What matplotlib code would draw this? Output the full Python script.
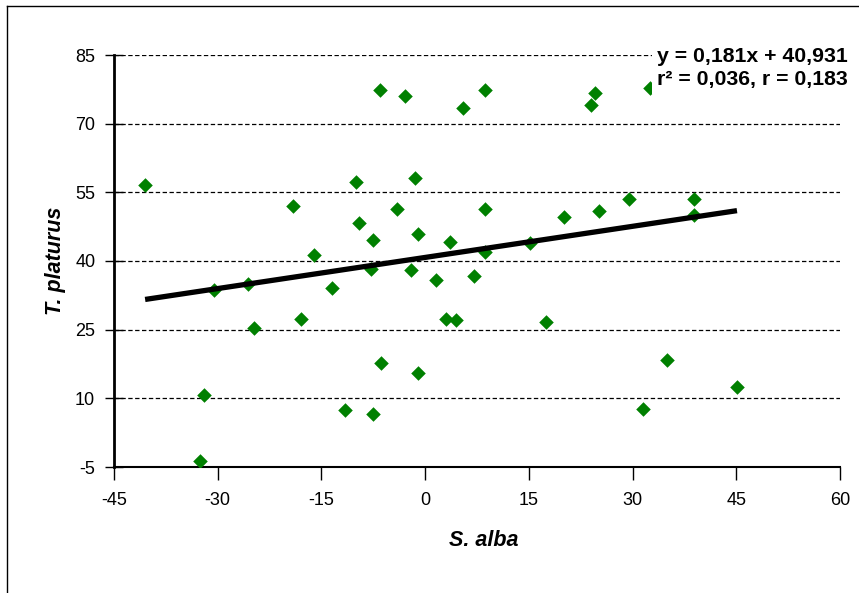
import numpy as np
import matplotlib
matplotlib.use('Agg')
import matplotlib.pyplot as plt
from matplotlib.lines import Line2D

plt.rcParams['font.family'] = ['Liberation Sans', 'DejaVu Sans']

# S. alba (x) vs T. platurus (y)
s_alba = [-40.5, -32.0, -32.6, -30.5, -25.6, -24.7, -19.05, -18.0, -16.1, -13.5,
          -11.6, -10.0, -9.6, -7.6, -7.6, -7.9, -6.5, -6.45, -4.05, -2.9,
          -1.98, -1.45, -1.06, -1.06, 1.5, 3.0, 3.57, 4.5, 5.45, 7.1,
          8.6, 8.6, 8.6, 15.1, 17.5, 20.1, 24.0, 24.55, 25.2, 29.55,
          31.5, 32.45, 35.05, 38.95, 38.95, 45.1]
t_platurus = [56.5, 10.8, -3.6, 33.6, 34.9, 25.3, 52.0, 27.3, 41.4, 34.1,
              7.45, 57.3, 48.4, 6.6, 44.65, 38.25, 77.4, 17.8, 51.4, 76.0,
              38.0, 58.2, 45.8, 15.6, 35.8, 27.3, 44.2, 27.05, 73.5, 36.8,
              77.4, 51.4, 42.0, 43.9, 26.6, 49.7, 74.1, 76.6, 50.9, 53.6,
              7.7, 77.9, 18.4, 53.6, 50.05, 12.55]

# trend line as drawn in the picture
fit_x = [-40.5, 45.1]
fit_y = [31.6, 51.0]

eq_text = 'y = 0,181x + 40,931\nr\u00b2 = 0,036, r = 0,183'

xticks = [-45, -30, -15, 0, 15, 30, 45, 60]
yticks = [-5, 10, 25, 40, 55, 70, 85]

fig = plt.figure(figsize=(8.59, 5.93), dpi=100)
ax = fig.add_axes([114/859, 1-467/593, (840-114)/859, (467-55)/593])

ax.scatter(s_alba, t_platurus, marker='D', s=55, color='#008000', zorder=3, linewidths=0)
ax.plot(fit_x, fit_y, color='black', lw=3.8, solid_capstyle='butt', zorder=4)

ax.set_xlim(-45, 60)
ax.set_ylim(-5, 85)
ax.set_xticks(xticks)
ax.set_yticks(yticks)
ax.set_xticklabels([str(v) for v in xticks], fontsize=13)
ax.set_yticklabels([str(v) for v in yticks], fontsize=13)
ax.yaxis.grid(True, color='black', linestyle=(0, (3.5, 2)), lw=0.9)
ax.set_axisbelow(True)
ax.tick_params(axis='y', direction='inout', length=13, width=1, pad=7)
ax.tick_params(axis='x', direction='out', length=9, width=1, pad=9)

for side in ['top', 'right']:
    ax.spines[side].set_visible(False)
ax.spines['left'].set_linewidth(2)
ax.spines['bottom'].set_linewidth(1.5)

fig.text(848/859, 1-47/593, eq_text, ha='right', va='top',
         fontsize=15.3, fontweight='bold', linespacing=1.25, zorder=6,
         bbox=dict(facecolor='white', edgecolor='none', pad=4))

fig.text(55/859, 1-261/593, 'T. platurus', rotation=90, ha='center', va='center',
         fontsize=15.5, fontweight='bold', fontstyle='italic')
fig.text(484/859, 1-540/593, 'S. alba', ha='center', va='center',
         fontsize=15.5, fontweight='bold', fontstyle='italic')

# outer frame (left and top edges visible)
fig.add_artist(Line2D([7/859, 7/859], [0, 1-6/593], color='black', lw=1, transform=fig.transFigure))
fig.add_artist(Line2D([7/859, 1], [1-6/593, 1-6/593], color='black', lw=1, transform=fig.transFigure))

fig.savefig('out.png', dpi=100)
